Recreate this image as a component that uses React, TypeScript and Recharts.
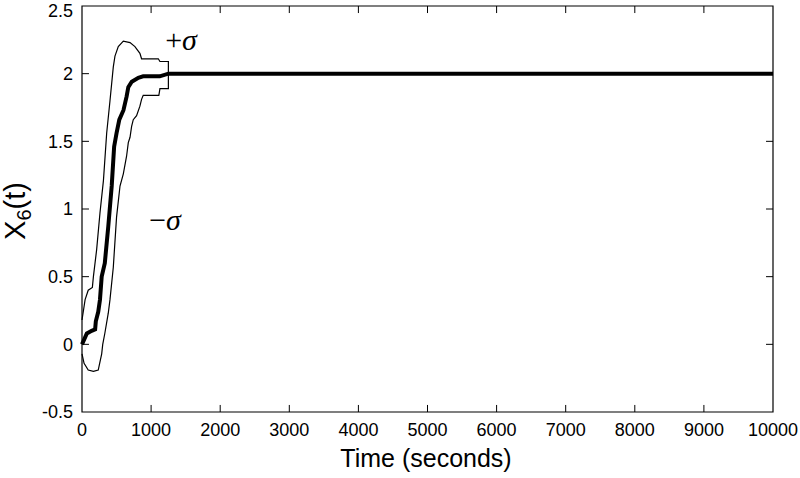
import { LineChart, Line, XAxis, YAxis, ReferenceDot, ReferenceArea, ReferenceLine } from 'recharts';

// mean trajectory of X6 and the +/- one sigma envelope
const meanTime = [0, 70, 140, 190, 200, 235, 260, 285, 330, 380, 430, 465, 500, 540, 600, 645, 670, 720, 815, 885, 1125, 1250, 10000];
const meanValue = [0, 0.08, 0.1, 0.11, 0.17, 0.24, 0.33, 0.5, 0.6, 0.87, 1.17, 1.46, 1.56, 1.66, 1.73, 1.83, 1.9, 1.94, 1.97, 1.98, 1.98, 2.0, 2.0];

const upperTime = [0, 45, 90, 150, 165, 212, 260, 310, 357, 405, 453, 477, 525, 598, 695, 766, 838, 862, 1104, 1128, 1250, 1250, 10000];
const upperValue = [0.18, 0.33, 0.4, 0.42, 0.5, 0.7, 0.97, 1.21, 1.56, 1.8, 2.05, 2.13, 2.2, 2.24, 2.23, 2.2, 2.15, 2.11, 2.11, 2.09, 2.09, 2.0, 2.0];

const lowerTime = [0, 30, 90, 165, 235, 285, 300, 330, 380, 405, 453, 500, 550, 598, 645, 670, 695, 718, 742, 790, 838, 862, 886, 1112, 1128, 1250, 1250, 10000];
const lowerValue = [-0.07, -0.14, -0.19, -0.2, -0.19, -0.07, 0, 0.08, 0.23, 0.33, 0.57, 0.94, 1.17, 1.26, 1.39, 1.49, 1.53, 1.61, 1.66, 1.69, 1.76, 1.81, 1.84, 1.84, 1.89, 1.89, 2.0, 2.0];

const xTicks = [0, 1000, 2000, 3000, 4000, 5000, 6000, 7000, 8000, 9000, 10000];
const yTicks = [-0.5, 0, 0.5, 1, 1.5, 2, 2.5];

const X_MIN = 0;
const X_MAX = 10000;
const Y_MIN = -0.5;
const Y_MAX = 2.5;
// inward tick length (~7px) expressed in data units
const X_TICK_LEN = 101;
const Y_TICK_LEN = 0.052;

const toPoints = (t: number[], v: number[]) => t.map((time, i) => ({ time, value: v[i] }));

const meanData = toPoints(meanTime, meanValue);
const upperData = toPoints(upperTime, upperValue);
const lowerData = toPoints(lowerTime, lowerValue);

const innerX = xTicks.filter((t) => t > X_MIN && t < X_MAX);
const innerY = yTicks.filter((v) => v > Y_MIN && v < Y_MAX);

const tickFont = { fontFamily: 'Liberation Sans, Arial, sans-serif', fontSize: 18, fill: '#000' };

const XLabel = () => (
  <text x={426} y={467} textAnchor="middle" fontFamily="Liberation Sans, Arial, sans-serif" fontSize={25} fill="#000">
    Time (seconds)
  </text>
);

const YLabel = () => (
  <text
    x={25}
    y={211}
    transform="rotate(-90 25 211)"
    textAnchor="middle"
    fontFamily="Liberation Sans, Arial, sans-serif"
    fontSize={29}
    fill="#000"
  >
    X<tspan fontSize={20} dy={6}>6</tspan>
    <tspan dy={-6}>(t)</tspan>
  </text>
);

const sigmaText = (sign: string) => (p: any) => (
  <text x={p.cx} y={p.cy} textAnchor="middle" fontFamily="Liberation Serif, DejaVu Serif, serif" fontSize={30} fill="#000">
    {sign}
    <tspan fontStyle="italic">σ</tspan>
  </text>
);

export default function App() {
  return (
    <div style={{ position: 'absolute', left: 0, top: 0, background: '#fff' }}>
      <LineChart width={800} height={478} margin={{ top: 6, right: 27, left: 0, bottom: 0 }}>
        <XAxis
          type="number"
          dataKey="time"
          domain={[X_MIN, X_MAX]}
          ticks={xTicks}
          height={66}
          tickSize={0}
          tickMargin={11}
          tick={tickFont}
          tickLine={false}
          axisLine={false}
          allowDuplicatedCategory={false}
          label={<XLabel />}
        />
        <YAxis
          type="number"
          domain={[Y_MIN, Y_MAX]}
          ticks={yTicks}
          width={82}
          tickSize={0}
          tickMargin={9}
          tick={tickFont}
          tickLine={false}
          axisLine={false}
          label={<YLabel />}
        />
        {innerX.map((t) => (
          <ReferenceLine
            key={`b${t}`}
            segment={[{ x: t, y: Y_MIN }, { x: t, y: Y_MIN + Y_TICK_LEN }]}
            stroke="#000"
            strokeWidth={1}
          />
        ))}
        {innerX.map((t) => (
          <ReferenceLine
            key={`t${t}`}
            segment={[{ x: t, y: Y_MAX }, { x: t, y: Y_MAX - Y_TICK_LEN }]}
            stroke="#000"
            strokeWidth={1}
          />
        ))}
        {innerY.map((v) => (
          <ReferenceLine
            key={`l${v}`}
            segment={[{ x: X_MIN, y: v }, { x: X_MIN + X_TICK_LEN, y: v }]}
            stroke="#000"
            strokeWidth={1}
          />
        ))}
        {innerY.map((v) => (
          <ReferenceLine
            key={`r${v}`}
            segment={[{ x: X_MAX, y: v }, { x: X_MAX - X_TICK_LEN, y: v }]}
            stroke="#000"
            strokeWidth={1}
          />
        ))}
        <Line data={upperData} dataKey="value" type="linear" stroke="#000" strokeWidth={1.2} dot={false} isAnimationActive={false} />
        <Line data={lowerData} dataKey="value" type="linear" stroke="#000" strokeWidth={1.2} dot={false} isAnimationActive={false} />
        <Line data={meanData} dataKey="value" type="linear" stroke="#000" strokeWidth={4} dot={false} isAnimationActive={false} />
        <ReferenceArea x1={X_MIN} x2={X_MAX} y1={Y_MIN} y2={Y_MAX} fill="none" fillOpacity={0} stroke="#000" strokeWidth={1.2} />
        <ReferenceDot x={1433} y={2.175} r={0} shape={sigmaText('+')} />
        <ReferenceDot x={1201} y={0.845} r={0} shape={sigmaText('−')} />
      </LineChart>
    </div>
  );
}
